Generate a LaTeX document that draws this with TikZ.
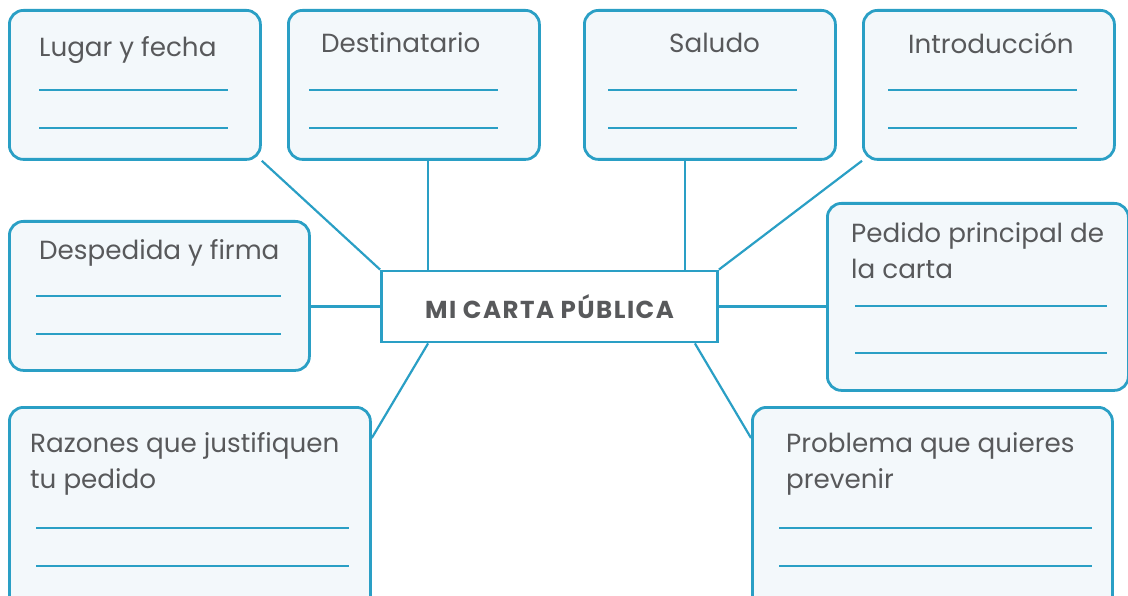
\documentclass[tikz,border=0pt]{standalone}
\usepackage{fontspec}
\setmainfont{Poppins}
\usetikzlibrary{backgrounds,calc}
\definecolor{bl}{HTML}{2A9FC5}
\definecolor{fl}{HTML}{F3F8FB}
\definecolor{tx}{HTML}{58595B}
\begin{document}
\begin{tikzpicture}[x=1pt,y=-1pt,
  box/.style={draw=bl, fill=fl, line width=2.8pt, rounded corners=14pt, anchor=north west, inner sep=0pt},
  cbox/.style={draw=bl, fill=white, line width=2.8pt, inner sep=0pt, minimum width=336pt, minimum height=71pt,
    font=\fontsize{24.5}{28}\selectfont\bfseries\addfontfeature{LetterSpace=6}, text=tx},
  lbl/.style={anchor=base west, inner sep=0pt, text=tx, font=\fontsize{26.2}{30}\selectfont},
  uline/.style={draw=bl, line width=2.6pt},
  conn/.style={draw=bl, line width=2.2pt}]
\useasboundingbox (0,0) rectangle (1128,596);
\clip (0,0) rectangle (1128,596);

% boxes
\node[box, minimum width=251pt, minimum height=149pt] (b1) at (8,9) {};
\node[box, minimum width=251pt, minimum height=149pt] (b2) at (287,9) {};
\node[box, minimum width=251pt, minimum height=149pt] (b3) at (583,9) {};
\node[box, minimum width=251pt, minimum height=149pt] (b4) at (862,9) {};
\node[box, minimum width=300pt, minimum height=149pt] (b5) at (8,220) {};
\node[box, minimum width=301pt, minimum height=187pt] (b6) at (826,202) {};
\node[box, minimum width=361pt, minimum height=210pt] (b7) at (8,406) {};
\node[box, minimum width=360pt, minimum height=210pt] (b8) at (751,406) {};

% center
\node[cbox] (c) at (549.5,306.5) {MI CARTA PÚBLICA};

% labels
\node[lbl] (t1) at (39,57) {Lugar y fecha};
\node[lbl] (t2) at (321,53) {Destinatario};
\node[lbl] (t3) at (669,53) {Saludo};
\node[lbl] (t4) at (908,54) {Introducción};
\node[lbl] (t5) at (39,260) {Despedida y firma};
\node[lbl] (t6a) at (851,243) {Pedido principal de};
\node[lbl] (t6b) at (851,279) {la carta};
\node[lbl] (t7a) at (30,452) {Razones que justifiquen};
\node[lbl] (t7b) at (30,488) {tu pedido};
\node[lbl] (t8a) at (786,452) {Problema que quieres};
\node[lbl] (t8b) at (786,488) {prevenir};

% writing lines
\draw[uline] (39,90) -- (228,90) (39,128) -- (228,128);
\draw[uline] (309,90) -- (498,90) (309,128) -- (498,128);
\draw[uline] (608,90) -- (797,90) (608,128) -- (797,128);
\draw[uline] (888,90) -- (1077,90) (888,128) -- (1077,128);
\draw[uline] (36,296) -- (281,296) (36,334) -- (281,334);
\draw[uline] (855,306) -- (1107,306) (855,353) -- (1107,353);
\draw[uline] (36,528) -- (349,528) (36,566) -- (349,566);
\draw[uline] (779,528) -- (1092,528) (779,566) -- (1092,566);

% connectors
\begin{scope}[on background layer]
\draw[conn] (b1.south east) -- (c.north west);
\draw[conn] ([xshift=48pt]c.north west) -- ([xshift=48pt]c.north west |- b2.south);
\draw[conn] ([xshift=-34pt]c.north east) -- ([xshift=-34pt]c.north east |- b3.south);
\draw[conn] (b4.south west) -- (c.north east);
\draw[conn] (c.west) -- (c.west -| b5.east);
\draw[conn] (c.east) -- (c.east -| b6.west);
\draw[conn] ([xshift=48pt]c.south west) -- ([yshift=-32pt]b7.north east);
\draw[conn] ([xshift=-24pt]c.south east) -- ([yshift=-32pt]b8.north west);
\end{scope}
\end{tikzpicture}
\end{document}
